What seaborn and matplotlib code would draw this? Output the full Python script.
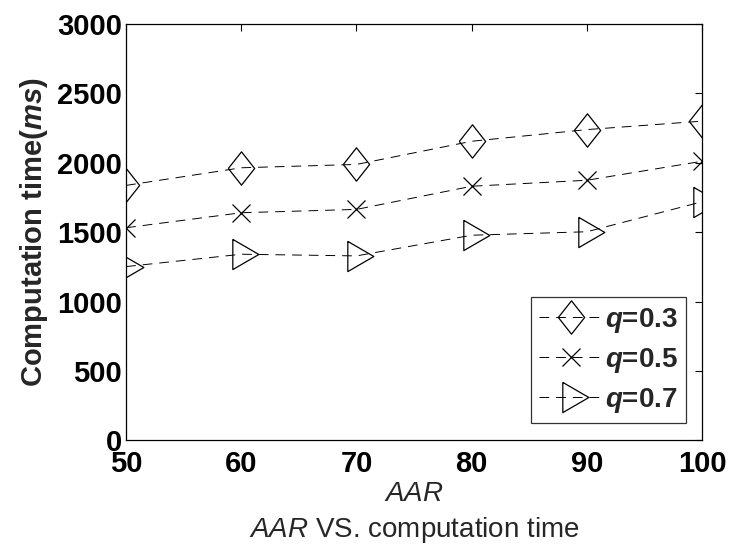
import numpy as np
import matplotlib
matplotlib.use("Agg")
import matplotlib.pyplot as plt
import seaborn as sns

# values
aar = [50, 60, 70, 80, 90, 100]
q03 = [1837, 1964, 1988, 2155, 2239, 2300]
q05 = [1532, 1640, 1664, 1831, 1874, 2011]
q07 = [1252, 1341, 1329, 1478, 1503, 1719]
labels = ["$q$=0.3", "$q$=0.5", "$q$=0.7"]
yticks = [0, 500, 1000, 1500, 2000, 2500, 3000]

sns.set_style("white")
plt.rcParams["font.family"] = ["Liberation Sans", "DejaVu Sans"]
plt.rcParams["mathtext.fontset"] = "custom"
plt.rcParams["mathtext.it"] = "Liberation Sans:italic:bold"
plt.rcParams["mathtext.sf"] = "Liberation Sans:italic"
plt.rcParams["mathtext.rm"] = "Liberation Sans:bold"
plt.rcParams["xtick.direction"] = "in"
plt.rcParams["ytick.direction"] = "in"
plt.rcParams["xtick.top"] = True
plt.rcParams["ytick.right"] = True
plt.rcParams["lines.scale_dashes"] = False

# marker shapes like the matlab ones
diamond = [(-0.79, 0), (0, 1), (0.79, 0), (0, -1), (-0.79, 0)]
tri_right = [(-0.5, 0.87), (1, 0), (-0.5, -0.87), (-0.5, 0.87)]

fig = plt.figure(figsize=(7.29, 5.45), dpi=100)
ax = fig.add_axes([0.173, 0.192, 0.790, 0.764])

series = [(q03, diamond, 24), (q05, "x", 13.5), (q07, tri_right, 25)]
for (vals, mk, ms), lab in zip(series, labels):
    sns.lineplot(x=aar, y=vals, ax=ax, color="black", lw=0.7,
                 linestyle=(0, (7, 5)), marker=mk, markersize=ms,
                 markerfacecolor="none", markeredgecolor="black",
                 markeredgewidth=0.9, label=lab)

ax.set_xlim(50, 100)
ax.set_ylim(0, 3000)
ax.set_xticks(aar)
ax.set_yticks(yticks)
ax.tick_params(labelsize=21, length=5, width=0.8, colors="black")
ax.tick_params(axis="x", pad=7)
ax.tick_params(axis="y", pad=3)
for t in ax.get_xticklabels() + ax.get_yticklabels():
    t.set_fontweight("bold")
for s in ax.spines.values():
    s.set_color("black")
    s.set_linewidth(0.9)

ax.set_ylabel("Computation time($ms$)", fontsize=21, fontweight="bold", labelpad=5)
ax.set_xlabel(r"$\mathsf{AAR}$", fontsize=20, labelpad=2)
fig.text(0.568, 0.014, r"$\mathsf{AAR}$ VS. computation time", fontsize=20,
         ha="center", va="baseline")

leg = ax.legend(loc="lower right", bbox_to_anchor=(0.972, 0.041), fontsize=20,
                frameon=True, fancybox=False, edgecolor="black",
                handlelength=2.3, borderaxespad=0, labelspacing=0.4,
                handletextpad=0.05, borderpad=0.3)
leg.get_frame().set_linewidth(0.9)
for t in leg.get_texts():
    t.set_fontweight("bold")

fig.savefig("out.png", dpi=100)
